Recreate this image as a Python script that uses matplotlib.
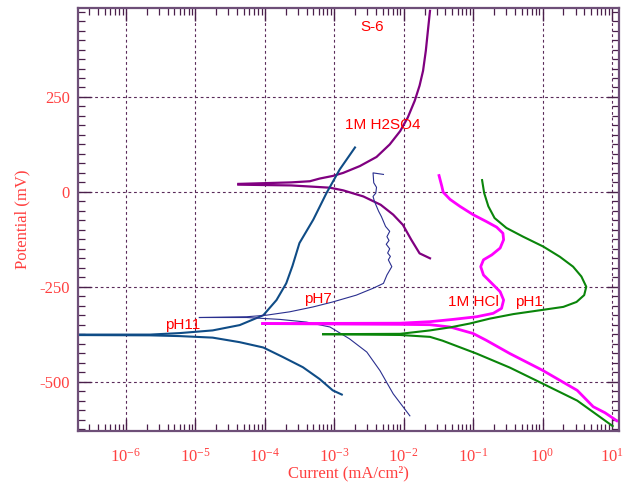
import numpy as np
import matplotlib.pyplot as plt
from matplotlib.ticker import FixedLocator, LogLocator, NullFormatter

plt.rcParams['axes.unicode_minus'] = False
plt.rcParams['mathtext.fontset'] = 'custom'
plt.rcParams['mathtext.rm'] = 'Liberation Serif'

# Tafel curves, log10(current mA/cm2) vs potential (mV)
# each curve: anodic branch and cathodic branch, both starting at Ecorr

h2so4_an_logi = [-4.38, -3.62, -3.35, -3.21, -3.02, -2.87, -2.63, -2.39, -2.20, -2.05,
                 -1.94, -1.84, -1.77, -1.72, -1.68, -1.65, -1.62]
h2so4_an_e = [21, 25, 28, 35, 42, 50, 68, 92, 125, 160,
              196, 240, 280, 319, 372, 425, 477]
h2so4_ca_logi = [-4.38, -3.62, -3.06, -2.87, -2.58, -2.33, -2.15, -2.01, -1.89, -1.77, -1.62]
h2so4_ca_e = [19, 17, 11, 4, -12, -34, -60, -87, -126, -162, -175]

ph11_an_logi = [-7.0, -5.65, -5.22, -4.75, -4.36, -4.02, -3.83, -3.69, -3.60, -3.50,
                -3.30, -3.11, -2.92, -2.70]
ph11_an_e = [-376, -376, -372, -365, -351, -325, -285, -241, -195, -135,
             -73, -3, 59, 117]
ph11_ca_logi = [-7.0, -5.65, -5.22, -4.75, -4.36, -4.02, -3.74, -3.45, -3.21, -3.02, -2.89]
ph11_ca_e = [-377, -378, -380, -384, -396, -410, -435, -462, -493, -523, -534]

ph7_an_logi = [-4.94, -4.26, -3.98, -3.64, -3.30, -3.02, -2.68, -2.44, -2.29, -2.24,
               -2.17, -2.22, -2.19, -2.23, -2.20, -2.25, -2.21, -2.24, -2.20, -2.26,
               -2.32, -2.36, -2.39, -2.42, -2.44, -2.40, -2.39, -2.43, -2.44, -2.29]
ph7_an_e = [-331, -329, -325, -316, -303, -290, -272, -254, -241, -219,
            -197, -179, -170, -161, -150, -138, -128, -118, -104, -91,
            -65, -51, -38, -25, -12, -3, 12, 24, 50, 46]
ph7_ca_logi = [-4.94, -4.26, -3.78, -3.40, -3.06, -2.78, -2.53, -2.34, -2.15, -1.91]
ph7_ca_e = [-331, -331, -336, -343, -356, -387, -422, -471, -532, -590]

hcl_an_logi = [-4.03, -2.05, -1.62, -1.29, -0.95, -0.71, -0.59, -0.56, -0.61, -0.73,
               -0.85, -0.89, -0.85, -0.73, -0.61, -0.56, -0.57, -0.66, -0.81, -1.00,
               -1.19, -1.33, -1.43, -1.45, -1.49]
hcl_an_e = [-347, -346, -342, -336, -329, -320, -307, -285, -263, -241,
            -219, -197, -179, -166, -148, -126, -109, -93, -78, -60,
            -38, -20, -1, 15, 43]
hcl_ca_logi = [-4.03, -2.05, -1.62, -1.33, -1.00, -0.81, -0.47, 0.00, 0.50, 0.73, 0.90, 1.07]
hcl_ca_e = [-347, -349, -350, -356, -373, -391, -426, -470, -523, -566, -582, -603]

ph1_an_logi = [-3.16, -2.05, -1.62, -1.33, -1.05, -0.76, -0.42, -0.04, 0.30, 0.49,
               0.60, 0.63, 0.56, 0.44, 0.25, 0.01, -0.28, -0.52, -0.69, -0.78,
               -0.84, -0.87]
ph1_an_e = [-375, -374, -365, -357, -347, -334, -322, -312, -303, -290,
            -272, -250, -223, -197, -171, -144, -118, -95, -69, -38,
            -3, 31]
ph1_ca_logi = [-3.16, -2.05, -1.62, -1.44, -0.95, -0.47, 0.00, 0.50, 1.01]
ph1_ca_e = [-375, -377, -382, -392, -426, -463, -505, -550, -617]

curves = [
    (h2so4_an_logi, h2so4_an_e, h2so4_ca_logi, h2so4_ca_e, '#800080', 1.6),
    (ph11_an_logi, ph11_an_e, ph11_ca_logi, ph11_ca_e, '#0f4c86', 1.5),
    (ph7_an_logi, ph7_an_e, ph7_ca_logi, ph7_ca_e, '#2a2f8f', 0.8),
    (hcl_an_logi, hcl_an_e, hcl_ca_logi, hcl_ca_e, '#ff00ff', 2.0),
    (ph1_an_logi, ph1_an_e, ph1_ca_logi, ph1_ca_e, '#0a850a', 1.5),
]

labels = ['S-6', '1M H2SO4', 'pH7', '1M HCl', 'pH1', 'pH11']
label_x = [10**-2.45, 10**-2.30, 10**-3.24, 10**-1.0, 10**-0.19, 10**-5.18]
label_y = [434, 176, -282, -290, -290, -352]

frame = '#6e4f78'
red = '#ff4040'

fig = plt.figure(figsize=(6.29, 4.87), dpi=100)
ax = fig.add_axes([0.124, 0.115, 0.86, 0.869])

for an_x, an_y, ca_x, ca_y, col, lw in curves:
    ax.plot(10**np.array(an_x), an_y, color=col, lw=lw)
    ax.plot(10**np.array(ca_x), ca_y, color=col, lw=lw)

for t, x, y in zip(labels, label_x, label_y):
    ax.text(x, y, t, color='red', fontsize=11, family='Liberation Sans',
            ha='center', va='center')

ax.set_xscale('log')
ax.set_xlim(2.05e-7, 12.6)
ax.set_ylim(-630, 485)

ax.xaxis.set_major_locator(FixedLocator([1e-6, 1e-5, 1e-4, 1e-3, 1e-2, 1e-1, 1, 10]))
ax.xaxis.set_minor_locator(LogLocator(base=10, subs=np.arange(2, 10), numticks=20))
ax.xaxis.set_minor_formatter(NullFormatter())
ax.set_xticklabels(['$\\mathrm{10^{-6}}$', '$\\mathrm{10^{-5}}$', '$\\mathrm{10^{-4}}$',
                    '$\\mathrm{10^{-3}}$', '$\\mathrm{10^{-2}}$', '$\\mathrm{10^{-1}}$',
                    '$\\mathrm{10^{0}}$', '$\\mathrm{10^{1}}$'])
ax.yaxis.set_major_locator(FixedLocator([-500, -250, 0, 250]))
ax.yaxis.set_minor_locator(FixedLocator(np.arange(-625, 500, 25)))

ax.tick_params(which='both', direction='in', top=True, right=True, color='#4a1f4a',
               labelcolor=red, labelsize=12, labelfontfamily='Liberation Serif')
ax.tick_params(which='major', length=9, width=1.0)
ax.tick_params(which='minor', length=5, width=0.9)
ax.tick_params(axis='x', which='major', pad=12)
ax.tick_params(axis='y', which='major', pad=6)

ax.grid(True, which='major', color='#5a2a5a', linestyle=(0, (2.5, 2.5)), lw=0.8)

for s in ax.spines.values():
    s.set_color(frame)
    s.set_linewidth(1.6)

ax.set_xlabel('Current (mA/cm\u00b2)', color=red, fontsize=12,
              family='Liberation Serif', labelpad=0)
ax.set_ylabel('Potential (mV)', color=red, fontsize=12,
              family='Liberation Serif', labelpad=6)

fig.savefig('out.png', dpi=100)
